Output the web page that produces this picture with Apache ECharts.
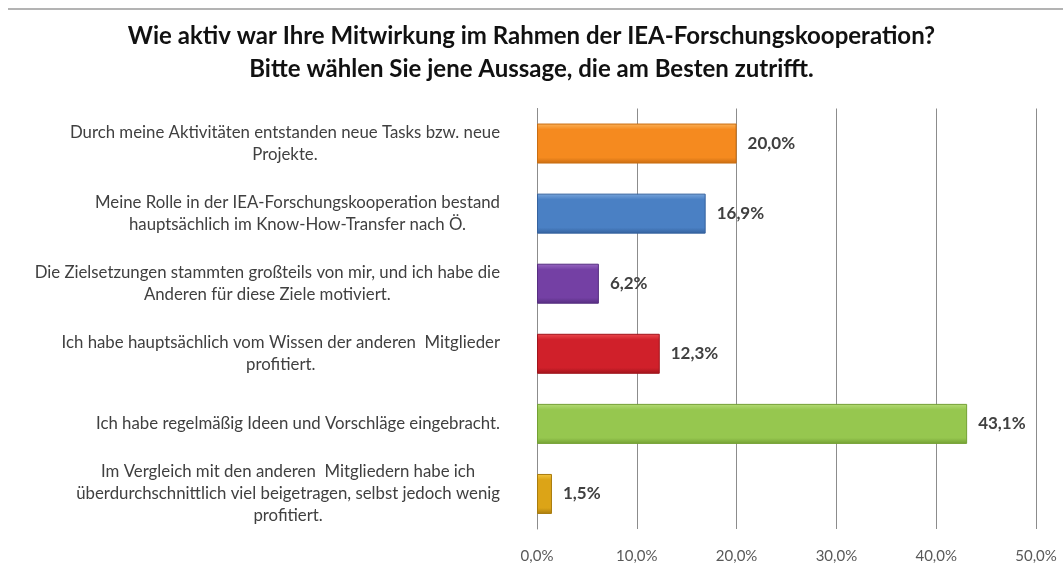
<!DOCTYPE html>
<html><head><meta charset="utf-8">
<script src="https://cdn.jsdelivr.net/npm/echarts@6/dist/echarts.min.js"></script>
<style>html,body{margin:0;padding:0;background:#fff}#c{width:1063px;height:581px}</style>
</head><body><div id="c"></div>
<script>
var categories = [
  "Durch meine Aktivitäten entstanden neue Tasks bzw. neue\nProjekte.",
  "Meine Rolle in der IEA-Forschungskooperation bestand\nhauptsächlich im Know-How-Transfer nach Ö.",
  "Die Zielsetzungen stammten großteils von mir, und ich habe die\nAnderen für diese Ziele motiviert.",
  "Ich habe hauptsächlich vom Wissen der anderen  Mitglieder\nprofitiert.",
  "Ich habe regelmäßig Ideen und Vorschläge eingebracht.",
  "Im Vergleich mit den anderen  Mitgliedern habe ich\nüberdurchschnittlich viel beigetragen, selbst jedoch wenig\nprofitiert."
];
var values = [20.0, 16.9, 6.2, 12.3, 43.1, 1.5];
var barColors = [
  ["#FBB25A", "#F58A1F", "#C96D12"],
  ["#79A6DC", "#4A80C4", "#35629E"],
  ["#9868C2", "#7440A4", "#562E80"],
  ["#EC4A4F", "#D0202A", "#A0141C"],
  ["#B5DC77", "#96C74F", "#73A034"],
  ["#F3C640", "#DCA417", "#A97C0E"]
];
var tickLabels = ["0,0%", "10,0%", "20,0%", "30,0%", "40,0%", "50,0%"];

var chart = echarts.init(document.getElementById('c'));
var font = "Lato, 'Open Sans', sans-serif";
chart.setOption({
  animation: false,
  title: {
    text: "Wie aktiv war Ihre Mitwirkung im Rahmen der IEA-Forschungskooperation?\nBitte wählen Sie jene Aussage, die am Besten zutrifft.",
    left: 'center', top: 15,
    textStyle: { fontFamily: font, fontSize: 24, fontWeight: 'bold', color: '#111', lineHeight: 33 }
  },
  graphic: [{ type: 'line', shape: { x1: 8, y1: 9, x2: 1063, y2: 9 }, style: { stroke: '#9a9a9a', lineWidth: 1.5 } }],
  grid: { left: 537, right: 27, top: 108.5, bottom: 52, containLabel: false },
  xAxis: {
    type: 'value', min: 0, max: 50, interval: 10,
    axisLine: { show: false }, axisTick: { show: false },
    splitLine: { show: true, lineStyle: { color: '#8c8c8c', width: 1 } },
    axisLabel: {
      margin: 20, color: '#595959', fontFamily: font, fontSize: 15,
      formatter: function (v) { return tickLabels[Math.round(v / 10)]; }
    }
  },
  yAxis: {
    type: 'category', inverse: true, data: categories,
    axisLine: { show: true, lineStyle: { color: '#8c8c8c' } },
    axisTick: { show: false },
    axisLabel: {
      margin: 37, color: '#404040', fontFamily: font, fontSize: 16.8, lineHeight: 22,
      formatter: function (v) {
        return v.split('\n').map(function (l) { return '{c|' + l + '}'; }).join('\n');
      },
      rich: { c: { align: 'center', fontFamily: font, fontSize: 16.8, color: '#404040', lineHeight: 22 } }
    }
  },
  series: [{
    type: 'bar', barWidth: 40,
    data: values.map(function (v, i) {
      var c = barColors[i];
      return {
        value: v,
        itemStyle: {
          color: new echarts.graphic.LinearGradient(0, 0, 0, 1, [
            { offset: 0, color: c[0] }, { offset: 0.15, color: c[1] },
            { offset: 0.85, color: c[1] }, { offset: 1, color: c[2] }
          ]),
          borderColor: c[2], borderWidth: 1
        }
      };
    }),
    label: {
      show: true, position: 'right', distance: 11,
      color: '#404040', fontFamily: font, fontSize: 17, fontWeight: 'bold',
      formatter: function (p) { return p.value.toFixed(1).replace('.', ',') + '%'; }
    }
  }]
});
</script></body></html>
